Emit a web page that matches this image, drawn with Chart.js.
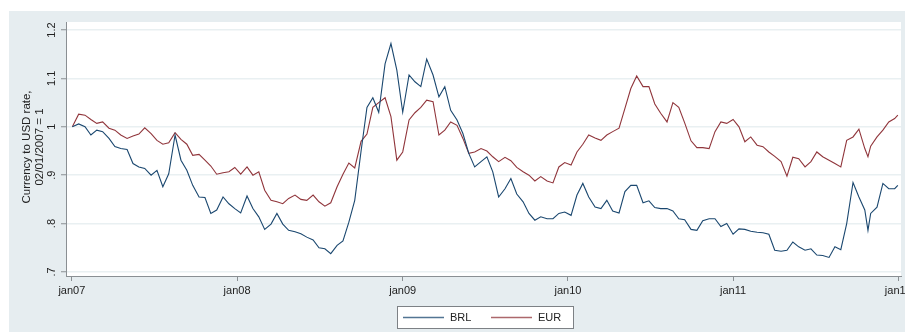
<!DOCTYPE html>
<html>
<head>
<meta charset="utf-8">
<script src="https://cdn.jsdelivr.net/npm/chart.js@4/dist/chart.umd.min.js"></script>
<style>
html,body{margin:0;padding:0;background:#fff;}
#wrap{width:905px;height:335px;}
</style>
</head>
<body>
<div id="wrap"><canvas id="c" width="905" height="335"></canvas></div>
<script>
// Days since 1 Jan 2007
const dates = [
1,15,29,42,55,68,82,95,108,122,135,148,161,175,188,201,214,
228,241,254,267,281,294,307,320,334,347,360,373,387,400,413,426,440,453,
466,479,493,506,519,533,546,559,572,586,599,612,625,639,652,665,678,692,
705,718,731,745,758,771,784,798,811,824,837,851,864,877,890,904,917,930,
943,957,970,983,997,1010,1023,1036,1050,1063,1076,1089,1103,1116,1129,1142,1156,1169,
1182,1195,1209,1222,1235,1248,1262,1275,1288,1301,1315,1328,1341,1354,1368,1381,1394,1408,
1421,1434,1447,1461,1474,1487,1500,1514,1527,1540,1553,1567,1580,1593,1606,1620,1633,1646,
1659,1673,1686,1699,1712,1726,1739,1752,1759,1765,1779,1792,1805,1818,1825
];
const brl = [
1.000,1.006,1.000,0.983,0.993,0.990,0.976,0.959,0.955,0.953,0.924,0.917,0.914,0.900,0.910,0.876,0.903,
0.983,0.931,0.910,0.879,0.855,0.854,0.821,0.828,0.855,0.841,0.831,0.822,0.857,0.831,0.814,0.788,0.799,0.821,
0.799,0.786,0.783,0.779,0.772,0.766,0.750,0.748,0.738,0.755,0.764,0.803,0.848,0.950,1.040,1.060,1.030,1.130,
1.172,1.117,1.030,1.107,1.093,1.083,1.140,1.107,1.062,1.083,1.034,1.014,0.986,0.945,0.917,0.928,0.938,0.907,
0.855,0.872,0.893,0.861,0.845,0.821,0.807,0.814,0.810,0.810,0.821,0.824,0.817,0.859,0.883,0.855,0.834,0.831,
0.848,0.826,0.822,0.866,0.879,0.879,0.843,0.847,0.833,0.831,0.831,0.826,0.810,0.808,0.788,0.786,0.806,0.810,
0.810,0.794,0.800,0.778,0.789,0.788,0.784,0.782,0.781,0.778,0.745,0.743,0.745,0.762,0.752,0.745,0.748,0.735,
0.734,0.730,0.752,0.746,0.800,0.885,0.855,0.828,0.786,0.821,0.834,0.883,0.872,0.872,0.879
];
const eur = [
1.000,1.026,1.024,1.015,1.007,1.010,0.997,0.993,0.983,0.976,0.981,0.985,0.998,0.986,0.972,0.964,0.967,
0.988,0.974,0.964,0.941,0.943,0.931,0.919,0.902,0.905,0.907,0.916,0.902,0.917,0.900,0.907,0.869,0.848,0.845,
0.841,0.852,0.859,0.850,0.848,0.859,0.845,0.836,0.843,0.876,0.902,0.925,0.915,0.970,0.985,1.040,1.050,1.060,
1.021,0.931,0.948,1.014,1.029,1.040,1.055,1.052,0.983,0.993,1.010,1.003,0.976,0.945,0.948,0.955,0.950,0.938,
0.928,0.937,0.930,0.916,0.907,0.900,0.888,0.897,0.888,0.884,0.917,0.926,0.921,0.948,0.964,0.983,0.977,0.972,
0.983,0.990,0.997,1.038,1.079,1.105,1.083,1.083,1.047,1.028,1.010,1.050,1.040,1.008,0.971,0.957,0.957,0.955,
0.990,1.010,1.007,1.015,1.000,0.969,0.979,0.962,0.959,0.948,0.939,0.928,0.898,0.937,0.934,0.917,0.928,0.948,
0.938,0.931,0.924,0.917,0.972,0.979,0.995,0.955,0.938,0.960,0.979,0.993,1.010,1.017,1.024
];
const seriesNames = ['BRL','EUR'];
const xTickDays = [0,365,731,1096,1461,1826];
const xTickLabels = ['jan07','jan08','jan09','jan10','jan11','jan12'];
const yTickValues = [0.7,0.8,0.9,1.0,1.1,1.2];
const yTickLabels = ['.7','.8','.9','1','1.1','1.2'];
const yTitle = ['Currency to USD rate,','02/01/2007 = 1'];

const NAVY = '#1a476f', MAROON = '#90353b';
const BG = '#e6edf0', GRID = '#e9f0f2', AXIS = '#8a8f93', TXT = '#222';
const FONT = '"Liberation Sans", Arial, sans-serif';

const toPts = (vals) => dates.map((d,i)=>({x:d, y:vals[i]}));

const framePlugin = {
  id:'frame',
  beforeDraw(chart){
    const ctx = chart.ctx, a = chart.chartArea;
    ctx.save();
    ctx.fillStyle='#fff'; ctx.fillRect(0,0,chart.width,chart.height);
    ctx.fillStyle=BG; ctx.fillRect(9,11,chart.width-9,321);
    ctx.fillStyle='#fff'; ctx.fillRect(a.left,a.top,a.right-a.left,a.bottom-a.top);
    ctx.restore();
  },
  afterDraw(chart){
    const ctx = chart.ctx, ys = chart.scales.y;
    ctx.save();
    ctx.fillStyle = TXT;
    ctx.font = '11px '+FONT;
    ctx.textAlign='center'; ctx.textBaseline='middle';
    yTickValues.forEach((v,i)=>{
      const py = ys.getPixelForValue(v);
      ctx.save(); ctx.translate(52,py); ctx.rotate(-Math.PI/2);
      ctx.fillText(yTickLabels[i],0,0); ctx.restore();
    });
    // axis title
    ctx.font = '11.5px '+FONT;
    const cy = 147;
    [27,40].forEach((x,i)=>{
      ctx.save(); ctx.translate(x,cy); ctx.rotate(-Math.PI/2);
      ctx.fillText(yTitle[i],0,0); ctx.restore();
    });
    // legend
    const lx=397, ly=306, lw=176, lh=22;
    ctx.fillStyle='#fff'; ctx.fillRect(lx,ly,lw,lh);
    ctx.strokeStyle='#7d8185'; ctx.lineWidth=1;
    ctx.strokeRect(lx+0.5,ly+0.5,lw,lh);
    const items = [{x0:403,x1:444,tx:450},{x0:491,x1:532,tx:538}];
    ctx.font='11px '+FONT; ctx.textAlign='left'; ctx.fillStyle=TXT;
    items.forEach((it,i)=>{
      ctx.strokeStyle=chart.data.datasets[i].borderColor; ctx.globalAlpha=0.75; ctx.lineWidth=1.5;
      ctx.beginPath(); ctx.moveTo(it.x0,ly+lh/2+0.5); ctx.lineTo(it.x1,ly+lh/2+0.5); ctx.stroke();
      ctx.globalAlpha=1;
      ctx.fillText(chart.data.datasets[i].label,it.tx,ly+lh/2+1);
    });
    ctx.restore();
  }
};

new Chart(document.getElementById('c'), {
  type:'line',
  data:{datasets:[
    {label:seriesNames[0], data:toPts(brl), borderColor:NAVY, borderWidth:1.1, pointRadius:0, tension:0, fill:false},
    {label:seriesNames[1], data:toPts(eur), borderColor:MAROON, borderWidth:1.1, pointRadius:0, tension:0, fill:false}
  ]},
  options:{
    responsive:false, animation:false, devicePixelRatio:1,
    layout:{padding:{left:0,top:22,right:4,bottom:0}},
    plugins:{legend:{display:false}, tooltip:{enabled:false}},
    scales:{
      x:{type:'linear', min:-13, max:1832,
        afterBuildTicks(s){ s.ticks = xTickDays.map(v=>({value:v})); },
        afterFit(s){ s.height = 59; s.paddingLeft = 0; s.paddingRight = 0; },
        ticks:{autoSkip:false, maxRotation:0, padding:3, color:TXT, font:{family:FONT,size:11},
          callback(v){ const i = xTickDays.indexOf(v); return i>=0 ? xTickLabels[i] : ''; }},
        grid:{drawOnChartArea:false, drawTicks:true, tickLength:5, tickColor:AXIS, tickWidth:1},
        border:{display:true, color:AXIS, width:1}
      },
      y:{type:'linear', min:0.6917, max:1.2165,
        afterBuildTicks(s){ s.ticks = yTickValues.map(v=>({value:v})); },
        afterFit(s){ s.width = 66; s.paddingTop = 0; s.paddingBottom = 0; },
        ticks:{display:false},
        grid:{drawOnChartArea:true, drawTicks:true, tickLength:5, color:GRID, lineWidth:1.5, tickColor:AXIS, tickWidth:1},
        border:{display:true, color:AXIS, width:1}
      }
    }
  },
  plugins:[framePlugin]
});
</script>
</body>
</html>
